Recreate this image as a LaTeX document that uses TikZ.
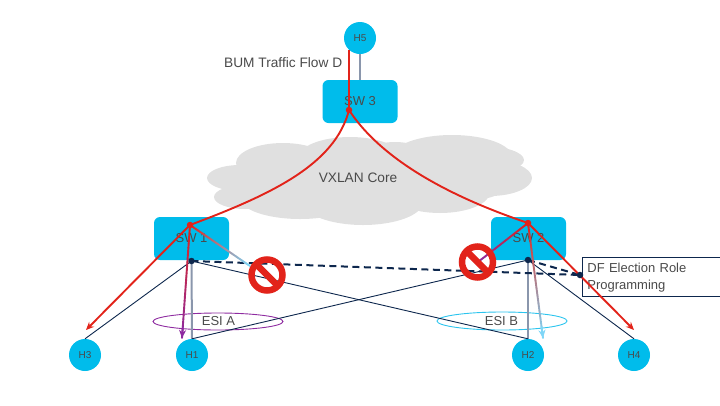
\documentclass[tikz,border=0pt]{standalone}
\usepackage{fontspec}
\setmainfont{Liberation Sans}
\usetikzlibrary{calc,arrows.meta}
\definecolor{swblue}{HTML}{00BCEB}
\definecolor{cloudgray}{HTML}{E0E0E0}
\definecolor{flowred}{HTML}{E2231A}
\definecolor{navy}{HTML}{0D274D}
\definecolor{steel}{HTML}{8A96AC}
\definecolor{purp}{HTML}{8E2BA0}
\definecolor{lblue}{HTML}{7FD6F7}
\definecolor{esiblue}{HTML}{2BC4EE}
\definecolor{labelgray}{HTML}{4A4A4A}
\tikzset{
  switchbox/.style={fill=swblue,rounded corners=6pt,minimum width=75pt,minimum height=43pt,inner sep=0pt,text=labelgray,font=\fontsize{13}{15}\selectfont},
  hostnode/.style={circle,fill=swblue,minimum size=32pt,inner sep=0pt,text=labelgray,font=\fontsize{10}{12}\selectfont},
  lbl/.style={text=labelgray,font=\fontsize{13}{15}\selectfont,inner sep=0pt},
  widelbl/.style={text=labelgray,font=\fontsize{13.7}{15}\selectfont,inner sep=0pt},
  redflow/.style={draw=flowred,line width=1.9pt},
  redarrow/.style={redflow,-{Stealth[length=8pt,width=7pt]}},
  thinnavy/.style={draw=navy,line width=.9pt},
  graylink/.style={draw=steel,line width=2pt},
  dashnavy/.style={draw=navy,line width=2pt,dash pattern=on 7pt off 4.5pt},
  jdot/.style={circle,inner sep=0pt,minimum size=6.5pt},
  cloudpart/.style={fill=cloudgray,draw=none},
}
\newcommand{\gradline}[4]{%
  \foreach \i in {0,...,29}{%
    \pgfmathsetmacro{\pct}{100-\i*100/29}%
    \pgfmathsetmacro{\ta}{\i/30}%
    \pgfmathsetmacro{\tb}{(\i+1)/30}%
    \draw[draw={#3!\pct!#4},line width=1.9pt,line cap=round] ($(#1)!\ta!(#2)$) -- ($(#1)!\tb!(#2)$);%
  }}
\begin{document}
\begin{tikzpicture}[x=1pt,y=-1pt]
\useasboundingbox (0,0) rectangle (720,405);
% cloud
\foreach \cx/\cy/\rx/\ry in {240/178/33/13, 245/197/31/12, 283/163/47/20, 350/158/52/21, 395/160/35/18, 452/157/60/22, 482/160/42/14, 490/178/42/18, 300/198/60/21, 363/202/60/23, 440/192/50/21, 470/185/36/15, 360/180/120/25}{
  \fill[cloudpart] (\cx,\cy) ellipse [x radius=\rx pt,y radius=\ry pt];
}
% esi ellipses
\draw[purp,line width=.9pt] (218,321.5) ellipse [x radius=65pt,y radius=8.5pt];
\draw[esiblue,line width=.9pt] (502,321) ellipse [x radius=65pt,y radius=9pt];
% nodes
\node[hostnode] (H5) at (360,38) {H5};
\node[switchbox] (SW3) at (360,101.5) {SW 3};
\node[switchbox] (SW1) at (191.5,238.5) {SW 1};
\node[switchbox] (SW2) at (528.5,238.5) {SW 2};
\node[hostnode] (H3) at (85,355) {H3};
\node[hostnode] (H1) at (192,355) {H1};
\node[hostnode] (H2) at (528,355) {H2};
\node[hostnode] (H4) at (634,355) {H4};
\node[widelbl,anchor=center] (core) at (358,178) {VXLAN Core};
\node[widelbl,anchor=west] (bum) at (224,62.5) {BUM Traffic Flow D};
\node[lbl] (esia) at (218.5,321) {ESI A};
\node[lbl] (esib) at (501.5,321) {ESI B};
\node[draw=navy,line width=.8pt,anchor=north west,minimum width=139pt,minimum height=38.5pt,text width=135pt,inner sep=0pt,align=left,text=labelgray,font=\fontsize{13}{16.5}\selectfont] (df) at (581.5,257) {\rule{0pt}{11pt}\hspace*{3.5pt}DF Election Role\\\hspace*{3.5pt}Programming};
% junctions
\coordinate (r3) at (349,110);
\coordinate (r1) at (190,225);
\coordinate (r2) at (528,223);
\coordinate (n1) at (191.5,261);
\coordinate (n2) at (528,260);
\coordinate (dfp) at (580,275);
\coordinate (h5r) at (349,50);
\coordinate (blk1) at (250,266);
\coordinate (blk2) at (478,262);
\coordinate (a1) at (182,338);
\coordinate (a2) at (543,338);
\coordinate (a3) at (86,330);
\coordinate (a4) at (634,330);
% thin and gray links
\draw[graylink] (H5.south) -- (SW3.north);
\draw[graylink] (n1) -- (H1.north);
\draw[graylink] (n2) -- (H2.north);
\draw[thinnavy] (n1) -- (H3.north);
\draw[thinnavy] (n1) -- (H2.north);
\draw[thinnavy] (n2) -- (H1.north);
\draw[thinnavy] (n2) -- (H4.north);
\draw[dashnavy] (n1) -- (dfp);
\draw[dashnavy] (n2) -- (dfp);
% gradient flows
\gradline{r1}{blk1}{flowred}{lblue}
\gradline{r2}{blk2}{flowred}{purp}
\gradline{r1}{a1}{flowred}{purp}
\gradline{r2}{a2}{flowred}{lblue}
\draw[draw=purp,line width=1.9pt,-{Stealth[length=8pt,width=7pt]}] ($(r1)!.9!(a1)$) -- (a1);
\draw[draw=lblue,line width=1.9pt,-{Stealth[length=8pt,width=7pt]}] ($(r2)!.9!(a2)$) -- (a2);
% red flows
\draw[redflow] (h5r) -- (r3);
\draw[redflow] (r3) .. controls (335,165) and (270,195) .. (r1);
\draw[redflow] (r3) .. controls (375,150) and (430,190) .. (r2);
\draw[redarrow] (r1) -- (a3);
\draw[redarrow] (r2) -- (a4);
% dots
\node[jdot,fill=flowred] (d3) at (r3) {};
\node[jdot,fill=flowred] (d1) at (r1) {};
\node[jdot,fill=flowred] (d2) at (r2) {};
\node[jdot,fill=navy] (d4) at (n1) {};
\node[jdot,fill=navy] (d5) at (n2) {};
\node[jdot,fill=navy] (d6) at (dfp) {};
% no signs
\foreach \nm/\cx/\cy in {noa/267/275, nob/477.5/262}{
  \node[circle,draw=flowred,line width=6.5pt,minimum size=31pt,inner sep=0pt] (\nm) at (\cx,\cy) {};
  \draw[flowred,line width=6.5pt] ($(\nm)+(-11,-11)$) -- ($(\nm)+(11,11)$);
}
\end{tikzpicture}
\end{document}
